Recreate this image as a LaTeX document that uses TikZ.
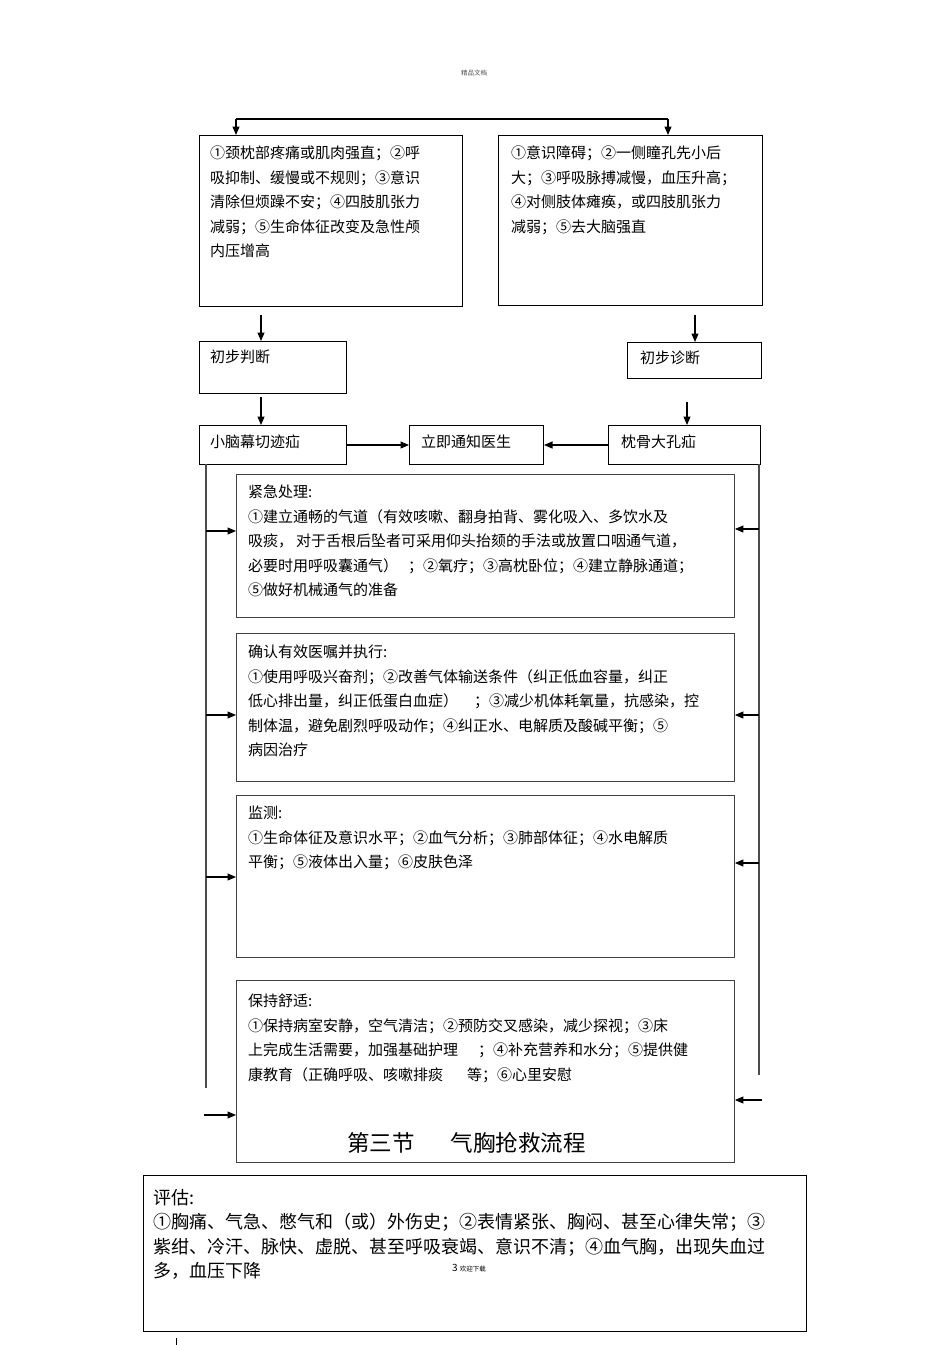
\documentclass[tikz,border=0pt]{standalone}
\usepackage{fontspec}
\setmainfont{Noto Sans CJK SC}
\usetikzlibrary{arrows.meta}

\begin{document}
\begin{tikzpicture}[x=1pt, y=-1pt,
  every node/.style={font=\fontsize{15}{24.6}\selectfont},
  tbox/.style={draw, line width=1.4pt, anchor=north west, inner sep=0pt},
  sbox/.style={draw, line width=1pt, anchor=north west, inner sep=0pt},
  pbox/.style={draw=black!75, line width=0.9pt, anchor=north west, inner sep=0pt},
  txt/.style={anchor=base west, inner sep=0pt, align=left, text width=#1},
  txt/.default=520pt,
  arr/.style={-{Triangle[length=8.5pt,width=7pt]}, line width=1.1pt},
  rail/.style={draw=black!70, line width=1.2pt}]
\useasboundingbox (0,0) rectangle (950,1345);

\node[font=\fontsize{6.5}{8}\selectfont, text=black!70] (hdr) at (474,73) {精品文档};

% two kinds of herniation
\node[tbox, minimum width=263pt, minimum height=171pt] (symA) at (199,135) {};
\node[tbox, minimum width=264pt, minimum height=170pt] (symB) at (498,135) {};
\node[txt] (symAtxt) at (210,158.5) {①颈枕部疼痛或肌肉强直；②呼\\吸抑制、缓慢或不规则；③意识\\清除但烦躁不安；④四肢肌张力\\减弱；⑤生命体征改变及急性颅\\内压增高};
\node[txt] (symBtxt) at (511,158.5) {①意识障碍；②一侧瞳孔先小后\\大；③呼吸脉搏减慢，血压升高；\\④对侧肢体瘫痪，或四肢肌张力\\减弱；⑤去大脑强直};
\coordinate (sl) at (236,119);
\coordinate (sr) at (668,119);
\draw[line width=1.2pt] (sl) -- (sr);
\draw[arr] (sl) -- (sl |- symA.north);
\draw[arr] (sr) -- (sr |- symB.north);

% first judgement
\node[sbox, minimum width=147pt, minimum height=52pt] (judge) at (199,341) {};
\node[sbox, minimum width=134pt, minimum height=36pt] (diag) at (627,342) {};
\node[txt] (judgetxt) at (210,362.5) {初步判断};
\node[txt] (diagtxt) at (640,363.5) {初步诊断};
\coordinate (a1) at (261,315);
\coordinate (a2) at (695,315);
\draw[arr] (a1) -- (a1 |- judge.north);
\draw[arr] (a2) -- (a2 |- diag.north);

\node[sbox, minimum width=147pt, minimum height=39pt] (hernA) at (199,425) {};
\node[sbox, minimum width=134pt, minimum height=39pt] (notify) at (409,425) {};
\node[sbox, minimum width=152pt, minimum height=39pt] (hernB) at (608,425) {};
\node[txt] (hernAtxt) at (210,447.5) {小脑幕切迹疝};
\node[txt] (notifytxt) at (421,447.5) {立即通知医生};
\node[txt] (hernBtxt) at (621,447.5) {枕骨大孔疝};
\coordinate (a3) at (261,397);
\coordinate (a4) at (687,402);
\draw[arr] (a3) -- (a3 |- hernA.north);
\draw[arr] (a4) -- (a4 |- hernB.north);
\draw[arr] (hernA.east) -- (notify.west);
\draw[arr] (hernB.west) -- (notify.east);

% nursing steps
\node[pbox, minimum width=498pt, minimum height=143pt] (emerg) at (236,474) {};
\node[pbox, minimum width=498pt, minimum height=148pt] (order) at (236,633) {};
\node[pbox, minimum width=498pt, minimum height=162pt] (watch) at (236,795) {};
\node[pbox, minimum width=498pt, minimum height=182pt] (comfort) at (236,980) {};
\node[txt] (emergtxt) at (248,497.5) {紧急处理:\\①建立通畅的气道（有效咳嗽、翻身拍背、雾化吸入、多饮水及\\吸痰，\hspace{3pt}对于舌根后坠者可采用仰头抬颏的手法或放置口咽通气道，\\必要时用呼吸囊通气）\hspace{10pt}；②氧疗；③高枕卧位；④建立静脉通道；\\⑤做好机械通气的准备};
\node[txt] (ordertxt) at (248,657.5) {确认有效医嘱并执行:\\①使用呼吸兴奋剂；②改善气体输送条件（纠正低血容量，纠正\\低心排出量，纠正低蛋白血症）\hspace{16pt}；③减少机体耗氧量，抗感染，控\\制体温，避免剧烈呼吸动作；④纠正水、电解质及酸碱平衡；⑤\\病因治疗};
\node[txt] (watchtxt) at (248,818.5) {监测:\\①生命体征及意识水平；②血气分析；③肺部体征；④水电解质\\平衡；⑤液体出入量；⑥皮肤色泽};
\node[txt] (comforttxt) at (248,1006.5) {保持舒适:\\①保持病室安静，空气清洁；②预防交叉感染，减少探视；③床\\上完成生活需要，加强基础护理\hspace{20pt}；④补充营养和水分；⑤提供健\\康教育（正确呼吸、咳嗽排痰\hspace{24pt}等；⑥心里安慰};
\node[txt, font=\fontsize{22.5}{26}\selectfont] (title) at (347,1151.5) {第三节\hspace{36pt}气胸抢救流程};

% side rails
\coordinate (railAtop) at (206,464);
\coordinate (railAbot) at (206,1088);
\coordinate (railBtop) at (759,464);
\coordinate (railBbot) at (759,1075);
\draw[rail] (railAtop) -- (railAbot);
\draw[rail] (railBtop) -- (railBbot);
\coordinate (l1) at (206,531);
\coordinate (l2) at (206,715);
\coordinate (l3) at (206,877);
\coordinate (l4) at (204,1115);
\coordinate (r1) at (759,529);
\coordinate (r2) at (759,715);
\coordinate (r3) at (759,863);
\coordinate (r4) at (762,1100);
\draw[arr] (l1) -- (l1 -| emerg.west);
\draw[arr] (l2) -- (l2 -| order.west);
\draw[arr] (l3) -- (l3 -| watch.west);
\draw[arr] (l4) -- (l4 -| comfort.west);
\draw[arr] (r1) -- (r1 -| emerg.east);
\draw[arr] (r2) -- (r2 -| order.east);
\draw[arr] (r3) -- (r3 -| watch.east);
\draw[arr] (r4) -- (r4 -| comfort.east);

% pneumothorax assessment
\node[sbox, minimum width=663pt, minimum height=156pt] (assess) at (143,1175) {};
\node[txt, font=\fontsize{18}{24.5}\selectfont] (assesstxt) at (153,1204) {评估:\\①胸痛、气急、憋气和（或）外伤史；②表情紧张、胸闷、甚至心律失常；③\\紫绀、冷汗、脉快、虚脱、甚至呼吸衰竭、意识不清；④血气胸，出现失血过\\多，血压下降};
\node[anchor=west, inner sep=0pt] (pageno) at (452,1268) {\fontsize{10}{12}\selectfont 3 \fontsize{6.5}{8}\selectfont 欢迎下载};
\coordinate (tk) at (176,1338);
\draw[line width=0.8pt] (tk) -- ++(0,7);
\end{tikzpicture}
\end{document}
